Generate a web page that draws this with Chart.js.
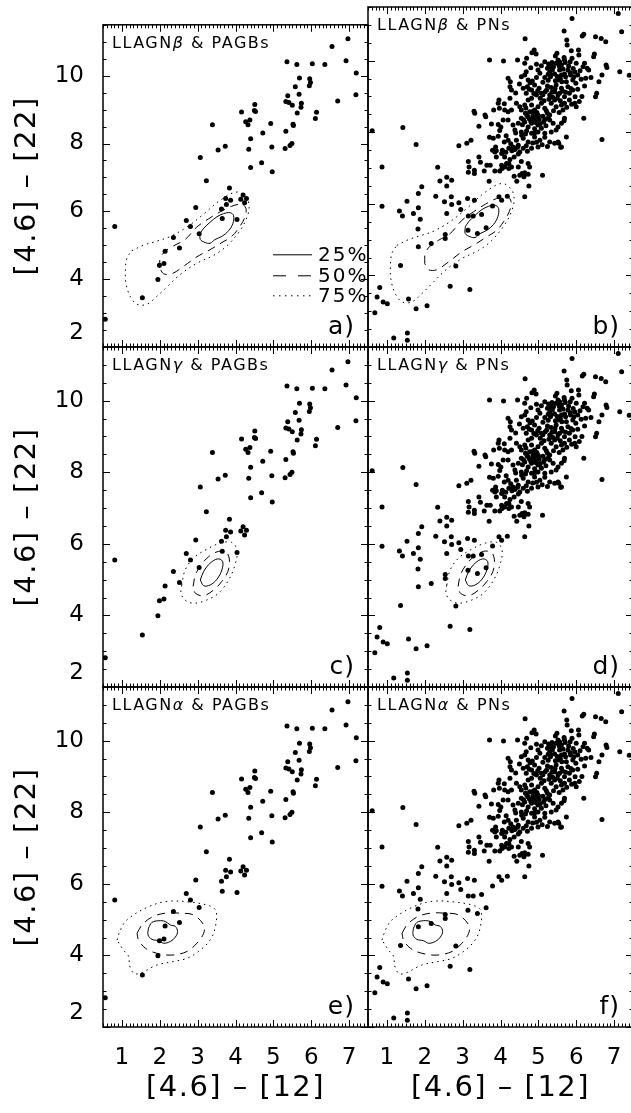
<!DOCTYPE html>
<html><head><meta charset="utf-8">
<script src="https://cdn.jsdelivr.net/npm/chart.js@4"></script>
<style>
html,body{margin:0;padding:0;background:#fff;overflow:hidden;width:631px;height:1113px;}
#root{position:absolute;left:0;top:0;width:640px;height:1113px;}
canvas{position:absolute;left:0;top:0;}
</style></head><body>
<div id="root"></div>
<script>
// ---------- data ----------
const xTickValues = [1,2,3,4,5,6,7];
const xTickLabels = ['1','2','3','4','5','6','7'];
const yTickValues = [2,4,6,8,10];
const yTickLabels = ['2','4','6','8','10'];
const xTitle = '[4.6] – [12]';
const yTitle = '[4.6] – [22]';
const rowSamples = ['β','γ','α'];
const colSamples = ['PAGBs','PNs'];
const panelLetters = ['a)','b)','c)','d)','e)','f)'];
const legendLabels = ['25%','50%','75%'];

const pagbData = [
[6.97,11.09],[6.55,10.86],[5.36,10.41],[5.62,10.33],[6.03,10.35],[6.36,10.33],[6.92,10.44],[7.19,10.08],
[5.69,9.93],[5.96,9.91],[5.98,9.80],[5.95,9.70],[5.58,9.67],[5.68,9.45],[5.38,9.41],[7.18,9.44],
[5.33,9.24],[5.41,9.21],[5.50,9.13],[5.74,9.19],[5.73,9.07],[6.70,9.25],[4.51,9.15],[4.50,8.97],
[4.53,8.94],[4.16,8.93],[5.63,8.90],[6.14,8.92],[6.11,8.74],[4.38,8.69],[4.27,8.64],[4.33,8.55],
[3.39,8.55],[4.93,8.59],[5.52,8.57],[5.53,8.53],[5.33,8.36],[4.72,8.31],[4.40,8.14],[5.49,8.00],
[5.44,7.94],[4.96,7.90],[3.73,7.92],[3.54,7.81],[4.35,7.83],[5.31,7.85],[3.07,7.59],[4.69,7.43],
[4.40,7.29],[4.97,7.17],[3.23,6.90],[3.84,6.69],[4.20,6.48],[3.74,6.38],[3.87,6.33],[4.14,6.36],
[4.29,6.38],[4.24,6.25],[3.76,6.20],[3.63,6.07],[2.95,6.11],[3.65,5.79],[4.04,5.76],[2.70,5.73],
[2.81,5.55],[0.81,5.55],[3.04,5.34],[2.36,5.23],[2.52,4.92],[2.14,4.82],[1.99,4.41],[2.11,4.46],
[1.95,3.99],[1.54,3.45],[0.56,2.82]
];

const pnData = [
[7.11,11.32],[5.89,11.18],[7.20,10.81],[5.68,10.83],
[4.65,10.61],[6.20,10.74],[6.16,10.69],[6.51,10.67],[6.66,10.62],[6.78,10.53],[5.75,10.58],[5.76,10.44],[5.87,10.28],[6.06,10.30],[6.07,10.16],[4.89,10.30],[4.83,10.22],[4.94,10.19],[5.49,10.21],[5.45,10.13],[6.48,10.19],[6.46,10.11],
[3.71,10.02],[4.08,9.99],[4.45,10.02],[4.69,10.07],[4.64,9.93],[5.17,9.97],[5.27,9.91],[5.34,9.83],[5.56,9.97],[5.61,9.88],[5.47,9.93],[5.68,10.09],[5.69,10.02],[5.84,9.97],[5.89,10.07],[6.00,9.93],[6.22,9.93],[6.18,9.83],[6.29,9.79],[6.33,9.74],[6.79,9.88],[6.81,9.81],[7.15,9.69],[7.40,9.59],[6.68,9.60],
[4.68,9.69],[4.64,9.60],[4.73,9.46],[4.20,9.51],[4.26,9.41],[4.99,9.74],[5.04,9.65],[4.95,9.53],[5.24,9.79],[5.30,9.69],[5.37,9.74],[5.43,9.63],[5.32,9.55],[5.17,9.53],[5.56,9.74],[5.61,9.60],[5.69,9.63],[5.52,9.46],[5.62,9.41],[5.78,9.74],[5.85,9.60],[5.91,9.46],[5.74,9.41],[5.96,9.69],[6.04,9.60],[5.94,9.55],[6.25,9.51],[6.39,9.53],[6.60,9.41],[4.78,9.38],[4.84,9.43],
[4.25,9.27],[4.29,9.18],[4.60,9.23],[4.71,9.27],[4.82,9.18],[4.68,9.09],[4.90,9.32],[5.02,9.23],[5.08,9.09],[4.95,9.04],[4.82,8.95],[5.24,9.29],[5.34,9.25],[5.18,9.13],[5.30,9.04],[5.43,9.13],[5.47,9.32],[5.61,9.23],[5.56,9.09],[5.69,8.99],[5.50,8.95],[5.78,9.27],[5.91,9.18],[6.04,9.20],[5.82,9.09],[5.97,8.99],[6.22,9.29],[6.54,9.09],[6.51,8.99],[3.96,8.90],[3.94,8.81],
[3.30,8.59],[3.32,8.53],[3.59,8.48],[3.61,8.43],[3.82,8.62],[3.97,8.67],[4.11,8.62],[4.20,8.57],[4.29,8.62],[4.42,8.81],[4.51,8.71],[4.55,8.62],[4.64,8.76],[4.73,8.90],[4.82,8.76],[4.77,8.57],[4.90,8.62],[4.99,8.71],[5.08,8.81],[5.17,8.67],[5.34,8.81],[5.43,8.90],[5.47,8.71],[5.61,8.76],[5.69,8.81],[5.65,8.62],[5.82,8.90],[5.96,8.81],[6.00,8.71],[4.66,8.53],[4.73,8.43],[4.86,8.48],[4.99,8.48],[5.24,8.53],[5.30,8.48],
[3.43,8.17],[3.76,8.23],[3.94,8.22],[4.01,8.15],[4.07,8.34],[4.20,8.34],[4.33,8.20],[4.47,8.25],[4.55,8.39],[4.64,8.29],[4.73,8.15],[4.82,8.25],[4.90,8.34],[4.99,8.20],[5.08,8.11],[5.17,8.36],[5.30,8.34],[5.39,8.25],[5.52,8.15],[5.61,8.25],[5.69,8.39],[5.68,8.32],[6.20,8.39],[4.38,8.06],[4.55,8.01],[4.69,8.04],[4.82,7.97],[4.99,8.01],[5.17,7.97],[5.34,8.01],[5.47,8.06],[1.42,8.13],[0.61,8.04],
[2.90,7.62],[3.11,7.69],[3.22,7.78],[3.71,7.86],[3.81,7.83],[3.94,7.89],[3.87,7.59],[3.85,7.45],[4.10,7.73],[4.20,7.78],[4.33,7.59],[4.47,7.64],[4.42,7.78],[4.60,7.83],[4.73,7.73],[4.90,7.87],[5.04,7.78],[5.17,7.86],[4.99,7.59],[5.30,7.73],[5.43,7.69],[5.52,7.73],[5.61,7.59],[5.74,7.87],[5.54,7.69],[5.59,7.58],[6.68,7.80],[1.77,7.66],
[3.15,7.18],[3.17,7.03],[3.31,6.94],[3.43,7.31],[3.47,7.16],[3.64,7.08],[3.73,7.08],[3.79,7.50],[3.89,7.48],[3.89,7.31],[4.03,7.41],[4.11,7.31],[4.16,7.13],[4.25,7.24],[4.36,7.31],[4.47,7.39],[4.51,7.45],[4.71,7.47],[4.03,7.08],[4.04,6.99],[4.11,7.03],[4.22,7.13],[4.29,7.03],[4.47,7.03],[4.55,7.18],[4.73,7.13],[4.77,7.03],[2.34,7.02],[0.87,7.03],
[3.15,6.88],[3.31,6.85],[3.57,6.92],[3.70,6.63],[3.85,6.92],[3.98,6.92],[4.22,6.99],[4.36,6.77],[4.43,6.63],[4.51,6.80],[4.57,6.85],[4.62,6.76],[4.64,6.87],[4.73,6.83],[4.75,6.50],[5.11,6.80],[2.40,6.64],[2.58,6.74],[2.71,6.66],[2.58,6.50],[1.92,6.48],
[1.83,6.29],[2.29,6.21],[2.52,6.06],[2.70,6.20],[3.13,6.15],[3.31,6.10],[3.96,6.20],[4.03,6.10],[4.18,6.21],[4.64,6.20],[1.53,6.07],
[0.87,5.93],[1.33,5.80],[1.41,5.66],[1.70,5.73],[1.83,5.89],[2.58,5.73],[2.71,5.98],[2.90,6.03],[2.95,5.84],[3.15,5.66],[3.28,5.66],[3.50,5.70],[3.79,5.94],[1.88,5.57],
[1.82,5.30],[2.54,5.14],[2.54,5.03],[2.17,4.89],[1.83,4.80],[3.14,5.26],[3.39,5.17],[3.62,5.33],
[1.36,4.28],[2.82,4.26],[2.67,3.70],[3.19,3.61],[0.81,3.66],[0.74,3.40],[0.90,3.26],[1.01,3.21],[1.57,3.34],[2.06,3.15],[1.77,3.07],[0.68,2.96],[1.18,2.25],[1.54,2.39],[1.54,2.19],
// denser core (estimated where dots overlap)
[4.70,8.47],[4.76,8.38],[4.80,8.30],[4.87,8.41],[4.93,8.27],[4.96,8.55],[5.02,8.36],[5.05,8.24],[5.12,8.45],[5.14,8.29],[5.20,8.18],[5.26,8.40],[4.61,8.35],[4.58,8.21],[4.90,8.10],[5.00,8.45],[4.85,8.58],[5.21,8.60],[4.67,8.68],[4.92,8.44],
[5.33,9.60],[5.40,9.83],[5.50,9.56],[5.55,9.85],[5.58,9.50],[5.65,9.77],[5.72,9.55],[5.80,9.85],[5.84,9.66],[5.45,9.44],[5.36,9.95],[5.71,9.95],[5.92,9.78],[5.52,10.02],[5.26,9.62],[6.10,9.72],[6.13,9.48],[5.99,9.37],
[5.05,8.95],[5.12,9.05],[5.15,8.88],[5.22,9.18],[5.28,8.92],[5.36,9.12],[5.38,8.98],[5.44,9.22],[5.52,9.05],[5.58,8.88],[5.64,9.15],[5.72,9.12],[5.86,9.22],[5.12,9.40],[5.26,9.45],[4.98,9.15],[4.88,9.08],[4.76,9.20],[5.40,8.60],[5.55,8.55],[5.75,8.70],[5.88,8.78],[6.08,8.86],[6.15,9.00],
[4.05,7.50],[4.14,7.44],[4.22,7.55],[4.30,7.48],[4.38,7.52],[4.45,7.58],[4.27,7.68],[4.60,7.55],[4.68,7.62],[4.82,7.55],[4.85,7.70],[4.95,7.72],[5.10,7.65],[5.24,7.60],[4.56,7.92],[4.66,7.95],[4.90,7.98],[4.40,7.98],[4.15,7.90],[3.98,8.05],
[4.95,9.90],[5.08,9.86],[4.80,9.80],[4.55,9.55],[4.50,9.35],[4.40,9.10],[4.10,8.80],[4.25,8.95]
];

// density contours (25% solid, 50% dashed, 75% dotted) for each LLAGN sample
const betaC25 = [[3.07,5.36],[3.16,5.50],[3.33,5.68],[3.51,5.84],[3.68,5.93],[3.86,5.96],[3.95,5.87],[3.93,5.64],[3.82,5.43],[3.64,5.26],[3.46,5.17],[3.33,5.06],[3.20,5.08],[3.07,5.17],[3.07,5.36]];
const betaC50 = [[2.00,4.33],[2.01,4.61],[2.14,4.82],[2.36,4.98],[2.67,5.17],[2.98,5.54],[3.29,5.78],[3.60,5.99],[3.90,6.15],[4.17,6.21],[4.28,6.06],[4.23,5.78],[4.08,5.50],[3.90,5.26],[3.64,5.08],[3.33,4.87],[2.98,4.66],[2.63,4.38],[2.32,4.16],[2.10,4.16],[2.00,4.33]];
const betaC75 = [[1.26,4.84],[1.57,5.00],[1.92,5.12],[2.28,5.26],[2.72,5.54],[3.16,5.92],[3.60,6.33],[4.04,6.57],[4.30,6.38],[4.36,6.10],[4.30,5.82],[4.13,5.45],[3.77,4.98],[3.42,4.70],[2.98,4.47],[2.54,4.14],[2.19,3.77],[1.92,3.49],[1.66,3.26],[1.40,3.26],[1.22,3.49],[1.11,3.86],[1.09,4.24],[1.13,4.61],[1.26,4.84]];
const gammaC25 = [[3.07,4.99],[3.16,5.23],[3.33,5.46],[3.53,5.58],[3.66,5.51],[3.64,5.27],[3.51,5.01],[3.33,4.85],[3.16,4.83],[3.07,4.99]];
const gammaC50 = [[2.88,4.81],[2.94,5.13],[3.07,5.38],[3.29,5.64],[3.55,5.79],[3.76,5.76],[3.84,5.55],[3.80,5.23],[3.64,4.95],[3.42,4.71],[3.16,4.55],[2.94,4.62],[2.88,4.81]];
const gammaC75 = [[2.58,4.85],[2.67,5.27],[2.89,5.60],[3.24,5.85],[3.60,6.02],[3.90,6.04],[4.04,5.83],[4.00,5.46],[3.82,4.99],[3.55,4.62],[3.24,4.43],[2.89,4.34],[2.67,4.43],[2.56,4.62],[2.58,4.85]];
const alphaC25 = [[1.70,4.76],[1.79,4.92],[1.97,4.97],[2.14,4.95],[2.28,4.85],[2.41,4.81],[2.47,4.67],[2.41,4.51],[2.28,4.39],[2.10,4.34],[1.97,4.41],[1.79,4.45],[1.69,4.57],[1.70,4.76]];
const alphaC50 = [[1.40,4.62],[1.53,4.85],[1.79,5.07],[2.14,5.18],[2.54,5.18],[2.89,5.13],[3.16,4.85],[3.16,4.62],[2.98,4.34],[2.72,4.11],[2.32,4.01],[1.92,4.06],[1.62,4.20],[1.44,4.43],[1.40,4.62]];
const alphaC75 = [[0.87,4.43],[0.96,4.71],[1.13,4.99],[1.66,5.34],[2.19,5.51],[2.80,5.49],[3.33,5.38],[3.49,5.23],[3.46,4.76],[3.33,4.43],[3.07,4.15],[2.72,3.92],[2.36,3.83],[1.92,3.73],[1.48,3.50],[1.31,3.50],[1.20,3.73],[1.18,3.97],[1.04,4.15],[0.87,4.43]];
const rowContours = [[betaC25,betaC50,betaC75],[gammaC25,gammaC50,gammaC75],[alphaC25,alphaC50,alphaC75]];

// ---------- layout / style ----------
const CW = 640, CH = 1113;
const colL = [103,368], colR = [368,633];
const rowT = [7,347,687], rowB = [347,687,1027];
const FONT = 'DejaVu Sans';
const contourDash = [[], [8,6], [1.5,4]];
const legendDash = [[], [13,12], [1.5,4.5]];

const spacingPlugin = {
  id:'spacing',
  beforeDraw(c){ c.ctx.letterSpacing = '1.5px'; },
  beforeDatasetsDraw(c){ c.ctx.letterSpacing = '0px'; }
};

const frameTicks = {
  id:'frameTicks',
  afterDraw(chart){
    const {ctx, chartArea:a, scales:{x,y}} = chart;
    ctx.save();
    ctx.strokeStyle = '#000';
    ctx.lineWidth = 1;
    ctx.beginPath();
    for (let i = 5; i <= 75; i++) {
      const px = Math.round(x.getPixelForValue(i/10)) + 0.5;
      const len = (i % 10 === 0) ? 7 : 3.5;
      ctx.moveTo(px, a.bottom); ctx.lineTo(px, a.bottom - len);
      ctx.moveTo(px, a.top); ctx.lineTo(px, a.top + len);
    }
    for (let i = 4; i <= 23; i++) {
      const v = i/2;
      const py = Math.round(y.getPixelForValue(v)) + 0.5;
      const len = (i % 4 === 0) ? 7 : 3.5;
      ctx.moveTo(a.left, py); ctx.lineTo(a.left + len, py);
      ctx.moveTo(a.right, py); ctx.lineTo(a.right - len, py);
    }
    ctx.stroke();
    ctx.lineWidth = 1.5;
    ctx.strokeRect(a.left, a.top, a.right - a.left, a.bottom - a.top);
    ctx.restore();
  }
};

function annotPlugin(idx, r, c){
  return {
    id:'annot',
    afterDraw(chart){
      const {ctx, chartArea:a} = chart;
      ctx.save();
      ctx.fillStyle = '#000'; ctx.strokeStyle = '#000';
      ctx.letterSpacing = '1.5px';
      ctx.textAlign = 'left'; ctx.textBaseline = 'alphabetic';
      let x = a.left + 9; const y = a.top + 23;
      const parts = [['LLAGN',''],[rowSamples[r],'italic '],[' & ' + colSamples[c],'']];
      for (const [t, st] of parts) {
        ctx.font = st + '16px "' + FONT + '"';
        ctx.fillText(t, x, y);
        x += ctx.measureText(t).width;
      }
      ctx.font = '25px "' + FONT + '"';
      ctx.letterSpacing = '1px';
      ctx.textAlign = 'right';
      ctx.fillText(panelLetters[idx], a.right - 13, a.bottom - 13);
      if (idx === 0) {
        const ly = [230, 251, 271];
        ctx.textAlign = 'left'; ctx.textBaseline = 'middle';
        ctx.font = '20px "' + FONT + '"';
        ctx.letterSpacing = '2px';
        ctx.lineWidth = 1;
        for (let i = 0; i < 3; i++) {
          ctx.setLineDash(legendDash[i]);
          ctx.beginPath();
          ctx.moveTo(a.left + 170, a.top + ly[i]);
          ctx.lineTo(a.left + 209, a.top + ly[i]);
          ctx.stroke();
          ctx.setLineDash([]);
          ctx.fillText(legendLabels[i], a.left + 215, a.top + ly[i] + 1);
        }
      }
      ctx.restore();
    }
  };
}

const root = document.getElementById('root');
for (let r = 0; r < 3; r++) {
  for (let c = 0; c < 2; c++) {
    const idx = r*2 + c;
    const canvas = document.createElement('canvas');
    canvas.width = CW; canvas.height = CH;
    root.appendChild(canvas);
    const showY = (c === 0), showX = (r === 2);
    const L = colL[c], R = colR[c], T = rowT[r], B = rowB[r];
    const pts = (c === 0) ? pagbData : pnData;
    const datasets = rowContours[r].map((cont, k) => ({
      type:'line',
      data: cont.map(([x,y]) => ({x,y})),
      showLine:true, fill:false,
      borderColor:'#000', borderWidth:1, borderDash: contourDash[k],
      pointRadius:0, tension:0.35, order:2
    }));
    datasets.push({
      type:'scatter',
      data: pts.map(([x,y]) => ({x,y})),
      pointRadius:2.5, pointBackgroundColor:'#000', pointBorderWidth:0,
      showLine:false, order:1
    });
    new Chart(canvas, {
      type:'scatter',
      data:{datasets},
      options:{
        responsive:false, devicePixelRatio:1, animation:false,
        events:[],
        layout:{padding:{left: showY ? 0 : L, top: T, right: CW - R, bottom: showX ? 0 : CH - B}},
        plugins:{legend:{display:false}, tooltip:{enabled:false}},
        scales:{
          x:{
            type:'linear', min:0.5, max:7.5, display: showX,
            grid:{display:false}, border:{display:false},
            afterBuildTicks: s => { s.ticks = xTickValues.map(v => ({value:v})); },
            afterFit: s => { if (showX) s.height = CH - B; },
            ticks:{display:showX, autoSkip:false, maxRotation:0, padding:9, z:1, color:'#000',
                   font:{family:FONT, size:23}, callback:(v,i) => xTickLabels[i]},
            title:{display:showX, text:xTitle, color:'#000', font:{family:FONT, size:29}, padding:{top:0,bottom:7}}
          },
          y:{
            type:'linear', min:2, max:11.5, display: showY,
            grid:{display:false}, border:{display:false},
            afterBuildTicks: s => { s.ticks = yTickValues.map(v => ({value:v})); },
            afterFit: s => { if (showY) s.width = L; },
            ticks:{display:showY, autoSkip:false, padding:11, z:1, color:'#000',
                   font:{family:FONT, size:23},
                   callback:(v,i) => i === 0 ? [yTickLabels[i], ''] : yTickLabels[i]},
            title:{display:showY, text:yTitle, color:'#000', font:{family:FONT, size:29}, padding:{top:10,bottom:0}}
          }
        }
      },
      plugins:[spacingPlugin, frameTicks, annotPlugin(idx, r, c)]
    });
  }
}
</script>
</body></html>
